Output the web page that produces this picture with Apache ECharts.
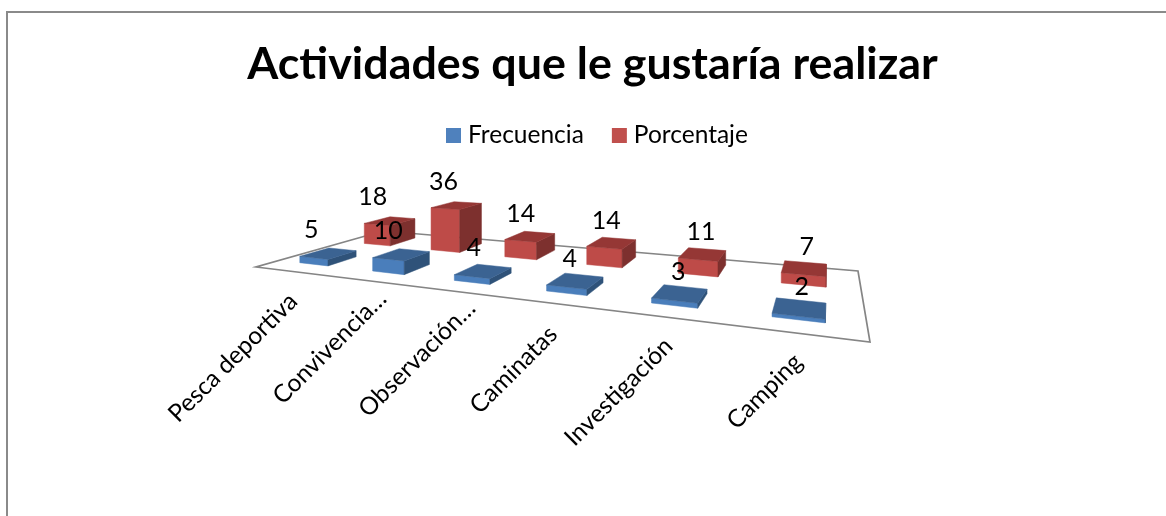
<!DOCTYPE html>
<html><head><meta charset="utf-8">
<style>html,body{margin:0;padding:0;background:#fff}#c{width:1166px;height:516px}</style>
<script src="https://cdn.jsdelivr.net/npm/echarts@6/dist/echarts.min.js"></script>
</head><body><div id="c"></div>
<script>
const categories = ['Pesca deportiva','Convivencia…','Observación…','Caminatas','Investigación','Camping'];
const frecuencia = [5,10,4,4,3,2];
const porcentaje = [18,36,14,14,11,7];
const titleText = 'Actividades que le gustaría realizar';

const FONT = 'Lato';
const G = {left:0, top:0, width:600, height:360};
const YMAX = 40;
const C = {fl:[256,267], fr:[870,342], br:[858,271], bl:[383,231]};
const LABEL_NUDGE = [[13,-4],[23,-16],[23,-17],[4,-3],[4,-5],[0,-5]];
function solve(){
  const [x0,y0]=C.fl,[x1,y1]=C.fr,[x2,y2]=C.br,[x3,y3]=C.bl;
  const dx1=x1-x2,dx2=x3-x2,dx3=x0-x1+x2-x3,dy1=y1-y2,dy2=y3-y2,dy3=y0-y1+y2-y3;
  const d=dx1*dy2-dx2*dy1;
  const g=(dx3*dy2-dx2*dy3)/d,h=(dx1*dy3-dx3*dy1)/d;
  return {a:x1-x0+g*x1,b:x3-x0+h*x3,c:x0,d:y1-y0+g*y1,e:y3-y0+h*y3,f:y0,g,h};
}
const M = solve();
const HSCALE = 52;
function P(u,v,w){
  const den=M.g*u+M.h*v+1;
  return [(M.a*u+M.b*v+M.c)/den, (M.d*u+M.e*v+M.f)/den - (w||0)*HSCALE/den];
}
const HALF=0.2;
function barItem(colors, v0, v1){
  return function(params, api){
    const p=api.coord([api.value(0),api.value(1)]);
    const u=(p[0]-G.left)/G.width;
    const w=(G.top+G.height-p[1])/G.height;
    const cell=api.size([1,0])[0]/G.width;
    const u0=u-cell*HALF,u1=u+cell*HALF;
    const A=P(u0,v0,0),B=P(u1,v0,0),C2=P(u1,v1,0);
    const At=P(u0,v0,w),Bt=P(u1,v0,w),Ct=P(u1,v1,w),Dt=P(u0,v1,w);
    const poly=(pts,fill)=>({type:'polygon',shape:{points:pts},style:{fill:fill,stroke:fill,lineWidth:0.5}});
    const ch=[poly([A,B,Bt,At],colors.front)];
    if(C2[0]>B[0]) ch.push(poly([B,C2,Ct,Bt],colors.side));
    ch.push(poly([At,Bt,Ct,Dt],colors.top));
    return {type:'group',children:ch};
  };
}
function labelItem(v0,v1){
  return function(params, api){
    const p=api.coord([api.value(0),api.value(1)]);
    const u=(p[0]-G.left)/G.width;
    const w=(G.top+G.height-p[1])/G.height;
    const top=P(u,(v0+v1)/2,w);
    return {type:'text',z2:100,style:{text:String(api.value(1)),x:top[0]-19.2+23.4*u,y:top[1]-24.2+3*u,
      align:'center',verticalAlign:'middle',fill:'#000',font:'25px '+FONT}};
  };
}
const idx=a=>a.map((v,i)=>[i,v]);
const blue={front:'#4a7ebb',side:'#2f5279',top:'#3b6392'};
const red={front:'#be4b48',side:'#7d302e',top:'#953735'};
const BLUE_V=[0.15,0.36], RED_V=[0.65,0.89];
const option={
  animation:false,
  backgroundColor:'#fff',
  title:{text:titleText,left:587.5,top:37,textAlign:'center',
    textStyle:{fontFamily:FONT,fontWeight:'bold',fontSize:44.8,color:'#000'}},
  legend:{data:[{name:'Frecuencia',icon:'rect'},{name:'Porcentaje',icon:'rect'}],
    left:441,top:118,itemWidth:15,itemHeight:15,itemGap:28,selectedMode:false,
    textStyle:{fontFamily:FONT,fontSize:24.5,color:'#000',padding:[0,0,0,2]}},
  grid:{left:G.left,top:G.top,width:G.width,height:G.height,show:false},
  xAxis:{type:'category',data:categories,show:false},
  yAxis:{type:'value',min:0,max:YMAX,show:false},
  series:[
    {type:'custom',name:'floor',silent:true,z:1,data:[[0,0]],
     renderItem:()=>({type:'polygon',shape:{points:[P(0,0),P(1,0),P(1,1),P(0,1)]},
       style:{fill:'#fff',stroke:'#858585',lineWidth:1.7}})},
    {type:'custom',name:'Porcentaje',z:3,data:idx(porcentaje),itemStyle:{color:'#c0504d'},
     renderItem:barItem(red,RED_V[0],RED_V[1])},
    {type:'custom',name:'Frecuencia',z:4,data:idx(frecuencia),itemStyle:{color:'#4f81bd'},
     renderItem:barItem(blue,BLUE_V[0],BLUE_V[1])},
    {type:'custom',name:'lblP',z:10,silent:true,data:idx(porcentaje),renderItem:labelItem(RED_V[0],RED_V[1])},
    {type:'custom',name:'lblF',z:10,silent:true,data:idx(frecuencia),renderItem:labelItem(BLUE_V[0],BLUE_V[1])},
    {type:'custom',name:'cats',z:10,silent:true,data:categories.map((c,i)=>[i,0]),
     renderItem:function(params,api){
       const p=api.coord([api.value(0),0]);
       const u=(p[0]-G.left)/G.width;
       const f=P(u,0,0);
       const n=LABEL_NUDGE[params.dataIndex];
       const ex=f[0]-12+15*u+n[0], ey=f[1]+30+n[1];
       return {type:'text',style:{text:categories[params.dataIndex],x:ex,y:ey,
         align:'right',verticalAlign:'middle',fill:'#000',font:'24.5px '+FONT},
         rotation:Math.PI/4,originX:ex,originY:ey};
     }}
  ],
  graphic:[{type:'polyline',silent:true,shape:{points:[[7,516],[7,12],[1166,12]]},
    style:{fill:'none',stroke:'#8a8a8a',lineWidth:2}}]
};
const chart=echarts.init(document.getElementById('c'),null,{renderer:'canvas'});
chart.setOption(option);
</script></body></html>
